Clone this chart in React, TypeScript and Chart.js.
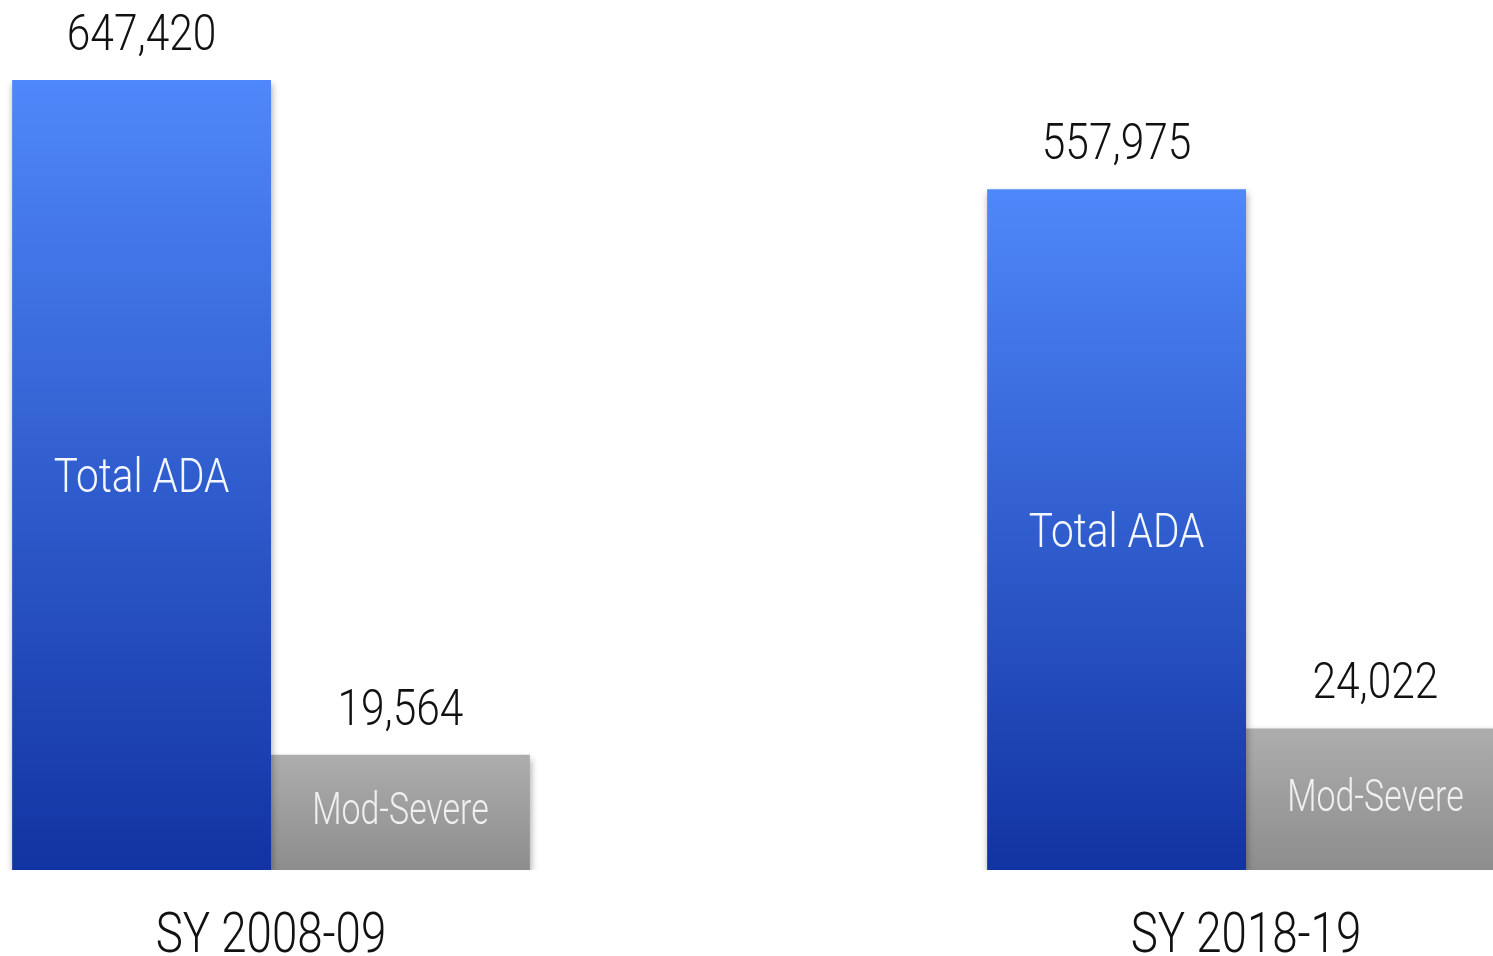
import React, { useEffect, useRef } from 'react';
import { Chart, registerables } from 'chart.js';

Chart.register(...registerables);

// ---- data ----
const categories = ['SY 2008-09', 'SY 2018-19'];
const totalADA = [647420, 557975];
const modSevere = [19564, 24022];
const seriesNames = ['Total ADA', 'Mod-Severe'];

const FONT = "Roboto, 'Liberation Sans', Arial, sans-serif";
const WEIGHT = '300';

function drawSquished(
  ctx: CanvasRenderingContext2D,
  text: string,
  x: number,
  y: number,
  size: number,
  sx: number,
  color: string
) {
  ctx.save();
  ctx.font = `${WEIGHT} ${size}px ${FONT}`;
  ctx.fillStyle = color;
  ctx.textAlign = 'center';
  ctx.textBaseline = 'alphabetic';
  ctx.translate(x, y);
  ctx.scale(sx, 1);
  ctx.fillText(text, 0, 0);
  ctx.restore();
}

function barGradient(topColor: string, bottomColor: string) {
  return (c: any) => {
    const chart = c.chart;
    const area = chart.chartArea;
    if (!area || c.type !== 'data' || !c.parsed) return topColor;
    const axisId = chart.data.datasets[c.datasetIndex].yAxisID || 'y';
    const scale = chart.scales[axisId];
    if (!scale) return topColor;
    const yTop = scale.getPixelForValue(c.parsed.y);
    const yBot = area.bottom;
    if (!isFinite(yTop) || yBot - yTop < 1) return topColor;
    const g = chart.ctx.createLinearGradient(0, yTop, 0, yBot);
    g.addColorStop(0, topColor);
    g.addColorStop(1, bottomColor);
    return g;
  };
}

const fmt = (v: number) => v.toLocaleString('en-US');

const shadowPlugin = {
  id: 'barShadow',
  beforeDatasetDraw(chart: any) {
    const c = chart.ctx;
    c.save();
    c.shadowColor = 'rgba(0,0,0,0.35)';
    c.shadowBlur = 7;
    c.shadowOffsetX = 1;
    c.shadowOffsetY = 4;
  },
  afterDatasetDraw(chart: any) {
    chart.ctx.restore();
  },
};

const labelPlugin = {
  id: 'barLabels',
  afterDraw(chart: any) {
    const ctx: CanvasRenderingContext2D = chart.ctx;
    chart.data.datasets.forEach((ds: any, di: number) => {
      const meta = chart.getDatasetMeta(di);
      meta.data.forEach((el: any, i: number) => {
        const { x, y, base } = el.getProps(['x', 'y', 'base'], true);
        const value = ds.data[i].y;
        drawSquished(ctx, fmt(value), x, y - 30, 50, 0.85, '#111111');
        if (di === 0) {
          const size = 48;
          drawSquished(ctx, seriesNames[0], x, (y + base) / 2 + size * 0.711 / 2, size, 0.845, '#f4f7ff');
        } else {
          const size = 44;
          drawSquished(ctx, seriesNames[1], x, (y + base) / 2 + size * 0.711 / 2 - 4, size, 0.77, '#f0f0f0');
        }
      });
    });
    const xs = chart.scales.x;
    categories.forEach((cat, i) => {
      drawSquished(ctx, cat, xs.getPixelForValue(i), 952, 56, 0.815, '#111111');
    });
  },
};

export default function App() {
  const canvasRef = useRef<HTMLCanvasElement | null>(null);

  useEffect(() => {
    if (!canvasRef.current) return;
    const chart = new Chart(canvasRef.current, {
      type: 'bar',
      data: {
        datasets: [
          {
            label: seriesNames[0],
            data: totalADA.map((v, i) => ({ x: i, y: v })),
            yAxisID: 'y',
            backgroundColor: barGradient('#4f88fa', '#1233a2'),
            borderWidth: 0,
          } as any,
          {
            label: seriesNames[1],
            data: modSevere.map((v, i) => ({ x: i, y: v })),
            yAxisID: 'y2',
            backgroundColor: barGradient('#adadad', '#8d8d8d'),
            borderWidth: 0,
          } as any,
        ],
      },
      options: {
        animation: false,
        responsive: true,
        maintainAspectRatio: false,
        datasets: {
          bar: {
            categoryPercentage: 0.531,
            barPercentage: 1,
          },
        },
        layout: {
          padding: { top: 80, bottom: 86, left: 0, right: 0 },
        },
        plugins: {
          legend: { display: false },
          tooltip: { enabled: false },
          title: { display: false },
        },
        scales: {
          x: {
            type: 'linear',
            display: false,
            offset: false,
            min: -271 / 975,
            max: (1493 - 271) / 975,
            afterBuildTicks: (scale: any) => {
              scale.ticks = categories.map((_, i) => ({ value: i }));
            },
            grid: { display: false },
          },
          y: {
            type: 'linear',
            display: false,
            min: 0,
            max: 647420,
            grid: { display: false },
          },
          y2: {
            type: 'linear',
            display: false,
            position: 'right',
            min: 0,
            max: 134000,
            grid: { display: false },
          },
        },
      } as any,
      plugins: [shadowPlugin, labelPlugin],
    });
    return () => chart.destroy();
  }, []);

  return (
    <div
      style={{
        position: 'fixed',
        left: 0,
        top: 0,
        width: 1493,
        height: 956,
        background: '#ffffff',
        overflow: 'hidden',
      }}
    >
      <canvas ref={canvasRef} />
    </div>
  );
}
